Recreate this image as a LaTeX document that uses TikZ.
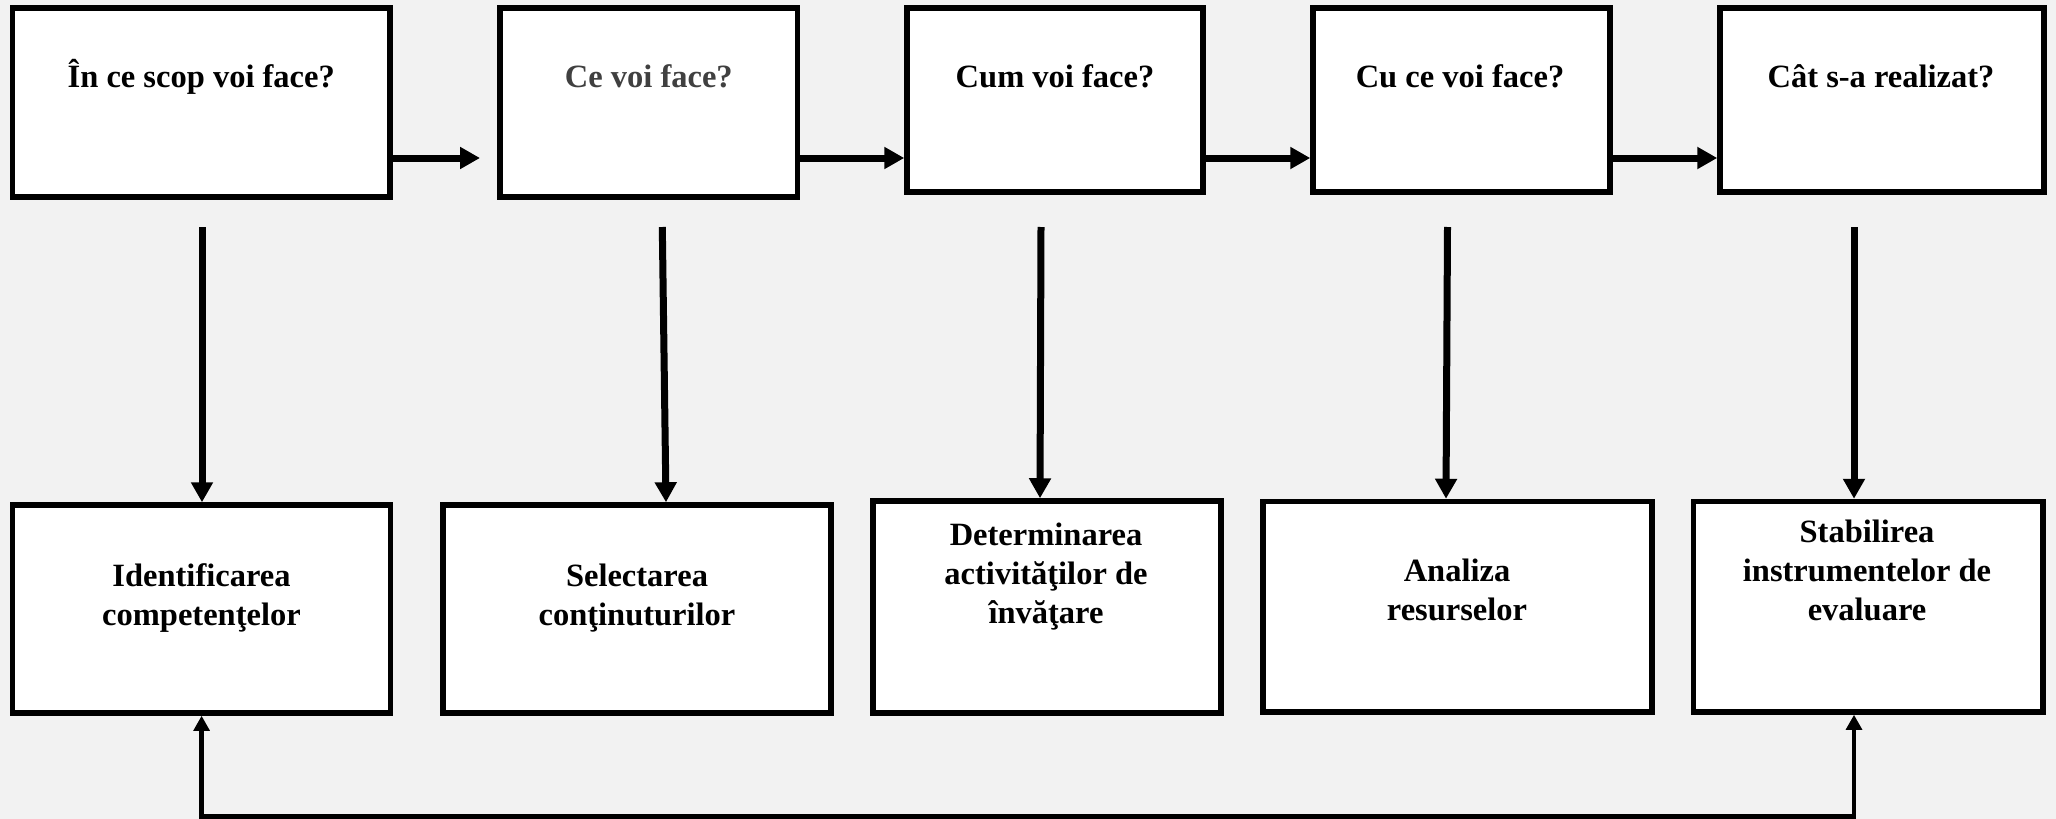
\documentclass[tikz,border=0pt]{standalone}
\usepackage{fontspec}
\setmainfont{Liberation Serif}
\usetikzlibrary{arrows.meta,calc}
\definecolor{bg}{HTML}{F2F2F2}
\definecolor{gtext}{HTML}{404040}
\begin{document}
\begin{tikzpicture}[x=0.5pt,y=-0.5pt,
  box/.style={draw=black,line width=2.75pt,fill=white,inner sep=0pt},
  lbl/.style={font=\fontsize{16.25pt}{19.3pt}\selectfont\bfseries,align=center,anchor=base,inner sep=0pt},
  harrow/.style={line width=3.5pt,-{Triangle[length=10pt,width=10.5pt]}},
  loopline/.style={line width=2.15pt,{Triangle[length=7.5pt,width=7.8pt]}-{Triangle[length=7.5pt,width=7.8pt]}}
]
\fill[bg] (0,0) rectangle (2056,819);
\useasboundingbox (0,0) rectangle (2056,819);

% top boxes
\node[box,minimum width=188.75pt,minimum height=94.5pt] (t1) at (201.25,102.5) {};
\node[box,minimum width=148.75pt,minimum height=94.5pt] (t2) at (648.75,102.5) {};
\node[box,minimum width=148pt,minimum height=92pt] (t3) at (1055,100) {};
\node[box,minimum width=148.5pt,minimum height=92pt] (t4) at (1461.5,100) {};
\node[box,minimum width=162pt,minimum height=92pt] (t5) at (1882,100) {};
% bottom boxes
\node[box,minimum width=189pt,minimum height=104pt] (b1) at (201.5,609) {};
\node[box,minimum width=194pt,minimum height=104pt] (b2) at (637,609) {};
\node[box,minimum width=174pt,minimum height=106pt] (b3) at (1047,607) {};
\node[box,minimum width=194.5pt,minimum height=105.25pt] (b4) at (1457.5,606.75) {};
\node[box,minimum width=174.75pt,minimum height=105.25pt] (b5) at (1868.25,606.75) {};

% labels (base anchor = baseline of the last line)
\node[lbl] (q1) at (201.25,87) {În ce scop voi face?};
\node[lbl,text=gtext] (q2) at (648.75,87) {Ce voi face?};
\node[lbl] (q3) at (1055,87) {Cum voi face?};
\node[lbl] (q4) at (1460,87) {Cu ce voi face?};
\node[lbl] (q5) at (1881,87) {Cât s-a realizat?};
\node[lbl] (r1) at (201.5,625) {Identificarea\\competenţelor};
\node[lbl] (r2) at (637,625) {Selectarea\\conţinuturilor};
\node[lbl] (r3) at (1046,623) {Determinarea\\activităţilor de\\învăţare};
\node[lbl] (r4) at (1457,620) {Analiza\\resurselor};
\node[lbl] (r5) at (1867,620) {Stabilirea\\instrumentelor de\\evaluare};

% horizontal arrows
\coordinate (hy) at (0,158);
\coordinate (a1e) at (480,158);
\draw[harrow] (t1.east |- hy) -- (a1e);
\draw[harrow] (t2.east |- hy) -- (t3.west |- hy);
\draw[harrow] (t3.east |- hy) -- (t4.west |- hy);
\draw[harrow] (t4.east |- hy) -- (t5.west |- hy);

% vertical arrows
\coordinate (s1) at (202,227);   \coordinate (e1) at (202,0);
\coordinate (s2) at (662.3,227); \coordinate (e2) at (666,0);
\coordinate (s3) at (1041,227);  \coordinate (e3) at (1040,0);
\coordinate (s4) at (1447.5,227);\coordinate (e4) at (1446,0);
\coordinate (s5) at (1854,227);  \coordinate (e5) at (1854,0);
\draw[harrow] (s1) -- (e1 |- b1.north);
\draw[harrow] (s2) -- (e2 |- b2.north);
\draw[harrow] (s3) -- (e3 |- b3.north);
\draw[harrow] (s4) -- (e4 |- b4.north);
\draw[harrow] (s5) -- (e5 |- b5.north);

% feedback connector
\coordinate (lb) at (0,816.5);
\coordinate (x1) at (201.6,0);
\coordinate (x5) at (1854,0);
\draw[loopline] (x1 |- b1.south) -- (x1 |- lb) -- (x5 |- lb) -- (x5 |- b5.south);
\end{tikzpicture}
\end{document}
